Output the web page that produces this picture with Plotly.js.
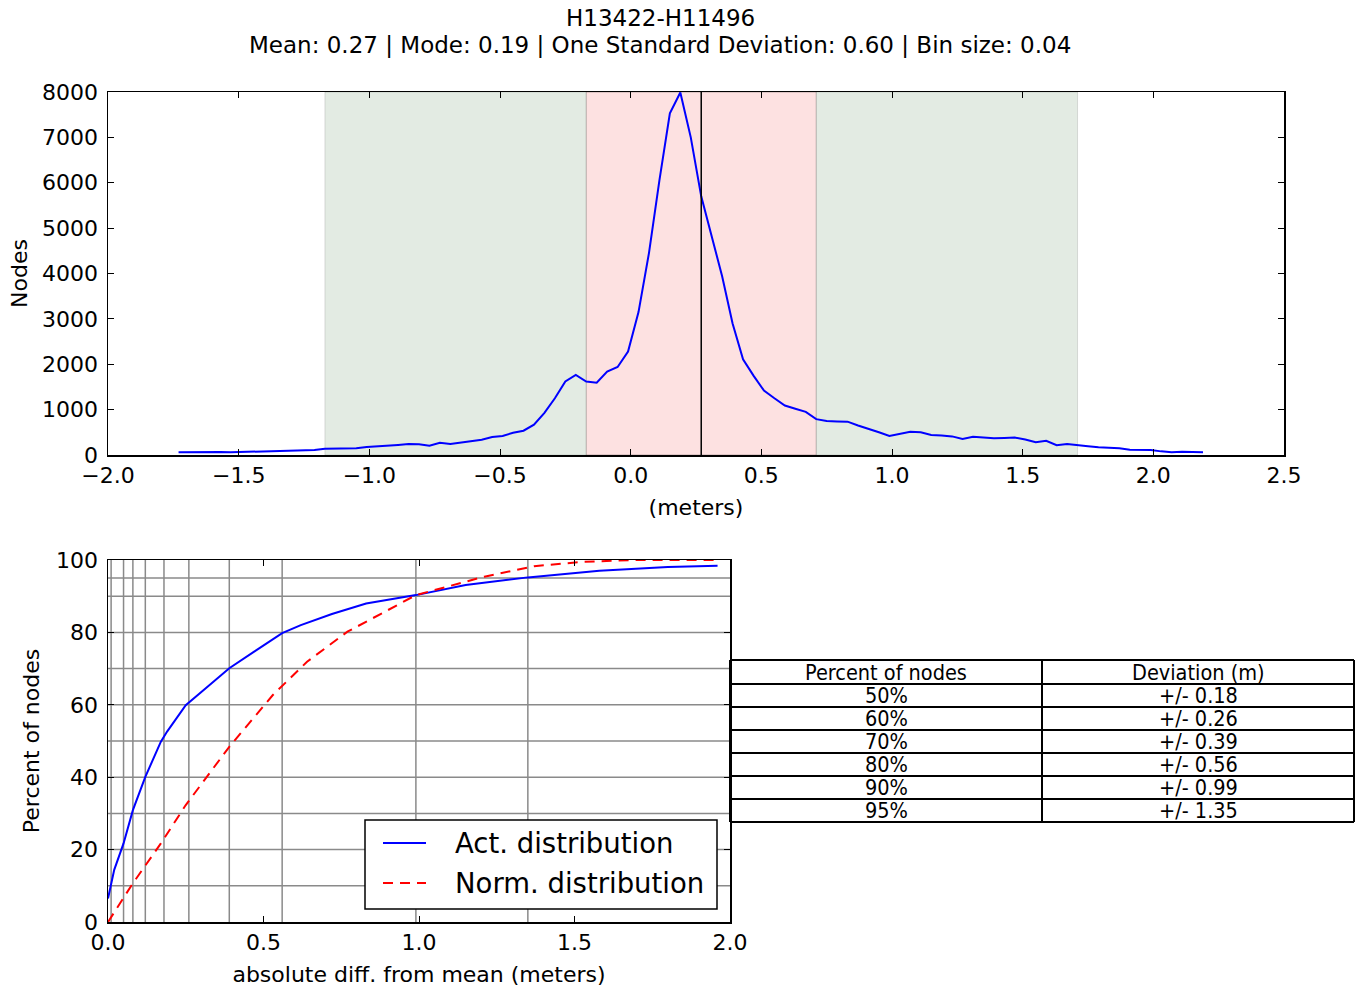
<!DOCTYPE html>
<html>
<head>
<meta charset="utf-8">
<script src="https://cdn.plot.ly/plotly-3.0.1.min.js"></script>
<style>
  html, body { margin: 0; padding: 0; background: #fff; }
  #chart { width: 1359px; height: 992px; }
</style>
</head>
<body>
<div id="chart"></div>
<script>
// ---------- Data ----------
const titleLine1 = 'H13422-H11496';
const meanVal = 0.27;
const modeVal = 0.19;
const stdVal = 0.60;
const binSize = 0.04;

// Histogram (bin centers, meters) and node counts
const binCenters = [-1.73,-1.69,-1.65,-1.61,-1.57,-1.53,-1.49,-1.45,-1.41,-1.37,-1.33,-1.29,-1.25,-1.21,-1.17,-1.13,-1.09,-1.05,-1.01,-0.97,-0.93,-0.89,-0.85,-0.81,-0.77,-0.73,-0.69,-0.65,-0.61,-0.57,-0.53,-0.49,-0.45,-0.41,-0.37,-0.33,-0.29,-0.25,-0.21,-0.17,-0.13,-0.09,-0.05,-0.01,0.03,0.07,0.11,0.15,0.19,0.23,0.27,0.31,0.35,0.39,0.43,0.47,0.51,0.55,0.59,0.63,0.67,0.71,0.75,0.79,0.83,0.87,0.91,0.95,0.99,1.03,1.07,1.11,1.15,1.19,1.23,1.27,1.31,1.35,1.39,1.43,1.47,1.51,1.55,1.59,1.63,1.67,1.71,1.75,1.79,1.83,1.87,1.91,1.95,1.99,2.03,2.07,2.11,2.15,2.19];
const nodeCounts = [60,65,55,75,65,60,65,75,85,85,80,85,90,110,135,140,140,150,175,185,200,220,240,235,205,270,245,270,300,335,395,420,490,535,670,930,1250,1620,1765,1620,1595,1840,1940,2280,3150,4450,6050,7530,7990,7000,5700,4830,3940,2900,2110,1750,1420,1250,1090,1020,950,790,750,740,735,650,580,500,420,470,514,500,440,430,410,355,400,385,370,375,385,340,280,315,215,240,210,195,170,165,150,115,110,110,80,60,70,65,60];

// Shaded spans (meters)
const innerSpan = [-0.17, 0.71];
const outerSpan = [-1.17, 1.71];

// Cumulative distributions
const actDiff = [0, 0.02, 0.05, 0.08, 0.12, 0.14, 0.17, 0.19, 0.25, 0.32, 0.39, 0.47, 0.56, 0.62, 0.72, 0.83, 0.99, 1.15, 1.35, 1.58, 1.80, 1.96];
const actPct  = [6.5, 14.4, 21.7, 30.9, 40.1, 43.8, 49.8, 52.6, 59.9, 65, 70.1, 74.7, 79.8, 82, 85.1, 88, 90.3, 93.1, 95.2, 97, 98.1, 98.4];
const normDiff = [0, 0.08, 0.17, 0.25, 0.39, 0.53, 0.64, 0.77, 0.89, 0.99, 1.05, 1.21, 1.37, 1.53, 1.69, 1.96];
const normPct  = [0, 10.7, 21.7, 32.3, 48.4, 62.7, 71.9, 80.2, 85.7, 90.3, 91.7, 95.4, 98.3, 99.5, 100, 100];
const seriesNames = ['Act. distribution', 'Norm. distribution'];

// Grid levels (percent levels and their deviations)
const gridPct = [10, 20, 30, 40, 50, 60, 70, 80, 90, 95];
const gridDev = [0.01, 0.05, 0.08, 0.12, 0.18, 0.26, 0.39, 0.56, 0.99, 1.35];

// Table
const tableHeader = ['Percent of nodes', 'Deviation (m)'];
const tablePct = [50, 60, 70, 80, 90, 95];
const tableDev = [0.18, 0.26, 0.39, 0.56, 0.99, 1.35];

// ---------- Build ----------
const FONT = 'DejaVu Sans, Liberation Sans, sans-serif';
const TFONT = 'DejaVu Sans Condensed, DejaVu Sans, sans-serif';
const W = 1359, H = 992;
const px = v => v / W;
const py = v => 1 - v / H;

const blueLine = { color: '#0000ff', width: 2 };
const redLine = { color: '#ff0000', width: 2, dash: '10px,7px' };

const traces = [
  { type: 'scatter', mode: 'lines', x: binCenters, y: nodeCounts, xaxis: 'x', yaxis: 'y',
    line: blueLine, showlegend: false },
  { type: 'scatter', mode: 'lines', x: actDiff, y: actPct, name: seriesNames[0], xaxis: 'x2', yaxis: 'y2',
    line: blueLine, showlegend: false },
  { type: 'scatter', mode: 'lines', x: normDiff, y: normPct, name: seriesNames[1], xaxis: 'x2', yaxis: 'y2',
    line: redLine, showlegend: false }
];

const shapes = [];
const annotations = [];

// Top spans and mean line
shapes.push({ type: 'rect', xref: 'x', yref: 'y domain', x0: outerSpan[0], x1: outerSpan[1], y0: 0, y1: 1,
  fillcolor: '#e3ebe3', line: { color: 'rgba(0,0,0,0.12)', width: 1 }, layer: 'below' });
shapes.push({ type: 'rect', xref: 'x', yref: 'y domain', x0: innerSpan[0], x1: innerSpan[1], y0: 0, y1: 1,
  fillcolor: '#fde1e1', line: { color: 'rgba(0,0,0,0.25)', width: 1 }, layer: 'below' });
shapes.push({ type: 'line', xref: 'x', yref: 'y domain', x0: meanVal, x1: meanVal, y0: 0, y1: 1,
  line: { color: '#000000', width: 1.5 }, layer: 'above' });

// Bottom grid lines at percent levels / deviations
gridDev.forEach(d => shapes.push({ type: 'line', xref: 'x2', yref: 'y2 domain', x0: d, x1: d, y0: 0, y1: 1,
  line: { color: '#8a8a8a', width: 1.5 }, layer: 'below' }));
gridPct.forEach(p => shapes.push({ type: 'line', xref: 'x2 domain', yref: 'y2', x0: 0, x1: 1, y0: p, y1: p,
  line: { color: '#8a8a8a', width: 1.5 }, layer: 'below' }));

// Title (two lines)
annotations.push({ xref: 'paper', yref: 'paper', x: px(660), y: py(18), xanchor: 'center', yanchor: 'middle',
  text: titleLine1, showarrow: false, font: { family: FONT, size: 23, color: '#000' } });
annotations.push({ xref: 'paper', yref: 'paper', x: px(660), y: py(45), xanchor: 'center', yanchor: 'middle',
  text: 'Mean: ' + meanVal.toFixed(2) + ' | Mode: ' + modeVal.toFixed(2) + ' | One Standard Deviation: ' +
        stdVal.toFixed(2) + ' | Bin size: ' + binSize.toFixed(2),
  showarrow: false, font: { family: FONT, size: 23, color: '#000' } });

// Legend box (lower right of the bottom axes)
const lg = { x0: 365, x1: 717, y0: 820, y1: 909 };
shapes.push({ type: 'rect', xref: 'paper', yref: 'paper', x0: px(lg.x0), x1: px(lg.x1), y0: py(lg.y1), y1: py(lg.y0),
  fillcolor: '#ffffff', line: { color: '#000', width: 1.5 }, layer: 'above' });
[[blueLine, 843], [redLine, 883]].forEach(([ln, yy], i) => {
  shapes.push({ type: 'line', xref: 'paper', yref: 'paper', x0: px(383), x1: px(426), y0: py(yy), y1: py(yy),
    line: ln, layer: 'above' });
  annotations.push({ xref: 'paper', yref: 'paper', x: px(453), y: py(yy), xanchor: 'left', yanchor: 'middle',
    text: seriesNames[i], showarrow: false, font: { family: FONT, size: 27.5, color: '#000' } });
});

// Table drawn from the table arrays
const tb = { x0: 730, x1: 1354, xm: 1042, top: 660, headH: 24, rowH: 23 };
const rowBounds = [tb.top, tb.top + tb.headH];
tablePct.forEach((_, i) => rowBounds.push(tb.top + tb.headH + (i + 1) * tb.rowH));
const tBottom = rowBounds[rowBounds.length - 1];
rowBounds.forEach(yy => shapes.push({ type: 'line', xref: 'paper', yref: 'paper', x0: px(tb.x0), x1: px(tb.x1),
  y0: py(yy), y1: py(yy), line: { color: '#000', width: 2 }, layer: 'above' }));
[tb.x0, tb.xm, tb.x1].forEach(xx => shapes.push({ type: 'line', xref: 'paper', yref: 'paper', x0: px(xx), x1: px(xx),
  y0: py(tBottom), y1: py(tb.top), line: { color: '#000', width: 2 }, layer: 'above' }));
const colCenters = [(tb.x0 + tb.xm) / 2, (tb.xm + tb.x1) / 2];
const tableRows = [tableHeader].concat(tablePct.map((p, i) => [p + '%', '+/- ' + tableDev[i].toFixed(2)]));
tableRows.forEach((row, r) => {
  const yc = (rowBounds[r] + rowBounds[r + 1]) / 2;
  row.forEach((txt, c) => annotations.push({ xref: 'paper', yref: 'paper', x: px(colCenters[c]), y: py(yc),
    xanchor: 'center', yanchor: 'middle', text: txt, showarrow: false,
    font: { family: TFONT, size: 21.5, color: '#000' } }));
});

const axisCommon = {
  showline: true, linecolor: '#000', linewidth: 1.5, mirror: 'ticks',
  ticks: 'inside', ticklen: 6, tickwidth: 1, tickcolor: '#000',
  showgrid: false, zeroline: false,
  tickfont: { family: FONT, size: 22, color: '#000' },
  automargin: false
};

const layout = {
  width: W, height: H,
  margin: { l: 0, r: 0, t: 0, b: 0 },
  paper_bgcolor: '#fff', plot_bgcolor: 'rgba(0,0,0,0)',
  font: { family: FONT, color: '#000' },
  xaxis: Object.assign({}, axisCommon, {
    domain: [px(108), px(1284)], anchor: 'y', range: [-2, 2.5], dtick: 0.5, tick0: 0, tickformat: '.1f',
    title: { text: '(meters)', font: { family: FONT, size: 22 }, standoff: 12 }
  }),
  yaxis: Object.assign({}, axisCommon, {
    domain: [py(455), py(92)], anchor: 'x', range: [0, 8000], dtick: 1000, ticklabelstandoff: 4,
    title: { text: 'Nodes', font: { family: FONT, size: 22 }, standoff: 8 }
  }),
  xaxis2: Object.assign({}, axisCommon, {
    domain: [px(108), px(730)], anchor: 'y2', range: [0, 2], dtick: 0.5, tick0: 0, tickformat: '.1f',
    title: { text: 'absolute diff. from mean (meters)', font: { family: FONT, size: 22 }, standoff: 12 }
  }),
  yaxis2: Object.assign({}, axisCommon, {
    domain: [py(922), py(560)], anchor: 'x2', range: [0, 100], dtick: 20, ticklabelstandoff: 4,
    title: { text: 'Percent of nodes', font: { family: FONT, size: 22 }, standoff: 10 }
  }),
  showlegend: false,
  shapes: shapes,
  annotations: annotations
};

Plotly.newPlot('chart', traces, layout, { displayModeBar: false, staticPlot: true });
</script>
</body>
</html>
